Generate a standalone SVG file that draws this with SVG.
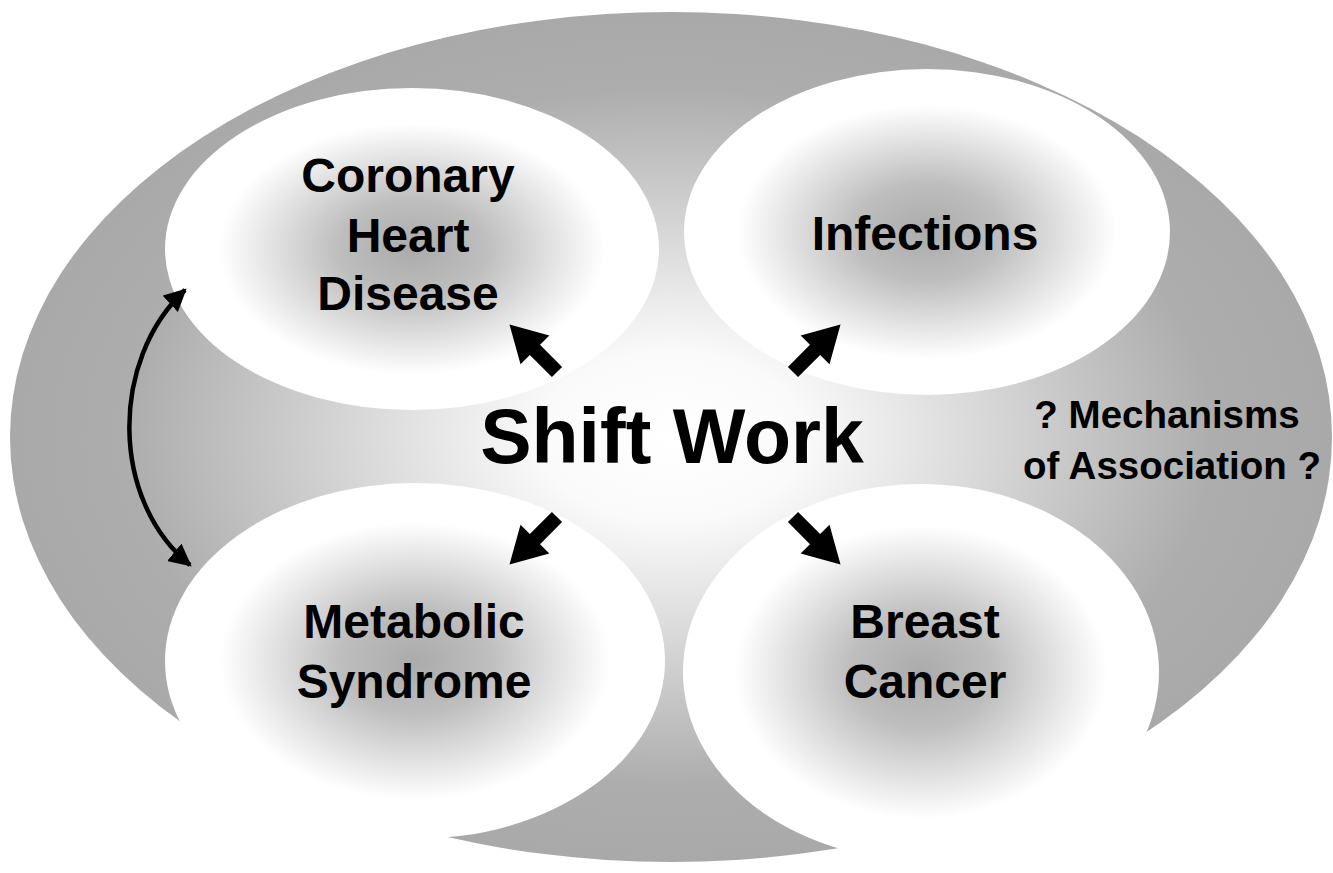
<svg xmlns="http://www.w3.org/2000/svg" width="1333" height="873" viewBox="0 0 1333 873">
<defs>
<radialGradient id="outerG" cx="0.5" cy="0.5" r="0.5">
<stop offset="0" stop-color="#ffffff"/>
<stop offset="0.2" stop-color="#fafafa"/>
<stop offset="0.82" stop-color="#adadad"/>
<stop offset="1" stop-color="#a9a9a9"/>
</radialGradient>
<radialGradient id="innerG" cx="0.5" cy="0.5" r="0.5">
<stop offset="0" stop-color="#ababab"/>
<stop offset="0.3" stop-color="#bebebe"/>
<stop offset="0.78" stop-color="#ffffff"/>
<stop offset="1" stop-color="#ffffff"/>
</radialGradient>
<marker id="ah" viewBox="0 0 10 10" refX="9" refY="5" markerWidth="5" markerHeight="5" orient="auto-start-reverse" markerUnits="strokeWidth">
<path d="M0,0 L10,5 L0,10 z" fill="#000"/>
</marker>
<path id="blk" d="M0,-6 L26,-6 L26,-17 L56,0 L26,17 L26,6 L0,6 z"/>
</defs>
<style>
.node{fill:url(#innerG);}
.lbl{font-family:"Liberation Sans",Arial,sans-serif;font-weight:bold;font-size:48px;fill:#000;text-anchor:middle;}
.mech{font-family:"Liberation Sans",Arial,sans-serif;font-weight:bold;font-size:38.5px;fill:#000;text-anchor:middle;}
.title{font-family:"Liberation Sans",Arial,sans-serif;font-weight:bold;font-size:77px;fill:#000;text-anchor:middle;}
</style>
<rect width="1333" height="873" fill="#ffffff"/>
<g id="background">
<ellipse cx="671" cy="437" rx="661" ry="425" fill="url(#outerG)"/>
</g>
<g id="node-chd">
<ellipse class="node" cx="412" cy="249" rx="247" ry="161"/>
<text class="lbl" x="408" y="192">Coronary</text>
<text class="lbl" x="408" y="252">Heart</text>
<text class="lbl" x="408" y="310">Disease</text>
</g>
<g id="node-infections">
<ellipse class="node" cx="927" cy="232" rx="243" ry="163"/>
<text class="lbl" x="925" y="250">Infections</text>
</g>
<g id="node-metabolic">
<ellipse class="node" cx="415" cy="661" rx="250" ry="178"/>
<text class="lbl" x="414" y="638">Metabolic</text>
<text class="lbl" x="414" y="698">Syndrome</text>
</g>
<g id="node-breast">
<ellipse class="node" cx="921" cy="672" rx="238" ry="188"/>
<text class="lbl" x="925" y="638">Breast</text>
<text class="lbl" x="925" y="698">Cancer</text>
</g>
<g id="node-shiftwork">
<text class="title" x="672" y="463">Shift Work</text>
</g>
<g id="node-mechanisms">
<text class="mech" x="1167" y="428">? Mechanisms</text>
<text class="mech" x="1172" y="479">of Association ?</text>
</g>
<g id="connectors">
<use href="#blk" transform="translate(557,372) rotate(-135) scale(1.2)"/>
<use href="#blk" transform="translate(793,372) rotate(-45) scale(1.2)"/>
<use href="#blk" transform="translate(557,517) rotate(135) scale(1.2)"/>
<use href="#blk" transform="translate(793,517) rotate(45) scale(1.2)"/>
<path d="M185,290 C110,360 110,500 190,565" fill="none" stroke="#000" stroke-width="4.5" marker-start="url(#ah)" marker-end="url(#ah)"/>
</g>
</svg>
